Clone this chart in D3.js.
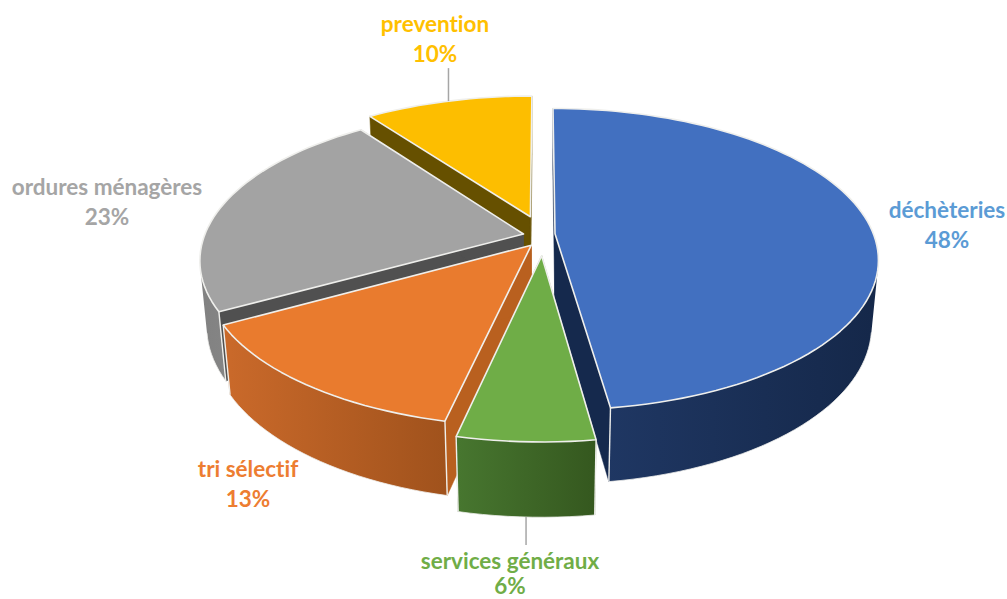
<!DOCTYPE html>
<html lang="fr">
<head>
<meta charset="utf-8">
<title>Répartition</title>
<script src="https://cdn.jsdelivr.net/npm/d3@7"></script>
<style>
    html, body { margin: 0; padding: 0; background: #fff; }
    svg { display: block; }
    text { font-family: Lato, 'Open Sans', sans-serif; font-weight: 700; font-size: 22.5px; text-anchor: middle; font-variant-ligatures: none; }
</style>
</head>
<body>
<svg id="chart" width="1007" height="599"></svg>
<script>
// valeurs, dans le sens horaire depuis midi
const categories = ['déchèteries', 'services généraux', 'tri sélectif', 'ordures ménagères', 'prevention']
const percents = [47.8, 5.7, 13.4, 23.1, 10]

// style
const topColors = ['#4270c0', '#6fad47', '#e97b2e', '#a3a3a3', '#fdbe00']
const labelColors = ['#5b9bd5', '#70ad47', '#ed7d31', '#a5a5a5', '#ffc000']
const wallColors = [['#213a68', '#15284a'], ['#47762f', '#35581f'], ['#c9692a', '#a0521c'], ['#828282', '#999999'], ['#6b5000', '#6b5000']]
const faceColors = ['#15294d', '#35581f', '#b9601f', '#505050', '#665000']
// décalage de chaque part sur le disque (x, z)
const offsets = [[0.044, -0.012], [0.002, 0.135], [-0.03, 0.065], [-0.055, -0.01], [-0.034, -0.13]]
const labelAt = [[947, 218], [510, 569], [248, 477], [107, 195], [435, 32]]
const drawOrder = [4, 3, 0, 2, 1]

const width = 1007
const height = 599
const cx = 541
const cy = 235.5
const R = 319
const Ry = 147
const k = 0.169 // perspective
const c = 0.02 // retrait de la face du bas
const depth = 66.5 / Ry

const svg = d3.select('#chart')
const defs = svg.append('defs')

const x = d3.scaleLinear().domain([-1, 1]).range([cx - R, cx + R])
const y = d3.scaleLinear().domain([-1, 1]).range([cy - Ry, cy + Ry])

const slices = d3.pie().sort(null).value((d) => d)(percents)

const project = (i, angle, r, low) => {
    const dx = r * Math.sin(angle) + offsets[i][0]
    const dz = -r * Math.cos(angle) + offsets[i][1]
    const w = 1 - k * dz + (low ? c : 0)
    return [x(dx / w), y((dz + (low ? depth : 0)) / w)]
}

const arcPoints = (slice, i, low) => {
    const steps = Math.max(8, Math.ceil((slice.endAngle - slice.startAngle) * 30))
    return d3.range(steps + 1).map((s) => project(i, slice.startAngle + ((slice.endAngle - slice.startAngle) * s) / steps, 1, low))
}

const line = d3.line()
const closed = (pts) => line(pts) + 'Z'
const edge = '#efefec'

drawOrder.forEach((i) => {
    const slice = slices[i]
    const g = svg.append('g').attr('class', 'slice')
    const top = arcPoints(slice, i, false)
    const low = arcPoints(slice, i, true)
    const apexTop = project(i, 0, 0, false)
    const apexLow = project(i, 0, 0, true)

    // faces radiales
    ;[0, top.length - 1].forEach((e) => {
        g.append('path')
            .attr('d', closed([apexTop, top[e], low[e], apexLow]))
            .attr('fill', faceColors[i])
            .attr('stroke', faceColors[i])
            .attr('stroke-width', 0.5)
    })

    // paroi extérieure, seulement ce qui est tourné vers nous
    const gradId = `wall${i}`
    const xs = d3.extent(low, (p) => p[0])
    const grad = defs.append('linearGradient').attr('id', gradId).attr('gradientUnits', 'userSpaceOnUse')
        .attr('x1', xs[0]).attr('x2', xs[1]).attr('y1', 0).attr('y2', 0)
    grad.append('stop').attr('offset', 0).attr('stop-color', wallColors[i][0])
    grad.append('stop').attr('offset', 1).attr('stop-color', wallColors[i][1])

    const quads = top.slice(1)
        .map((p, s) => ({ s, pts: [top[s], p, low[s + 1], low[s]] }))
        .filter((q) => d3.polygonArea(q.pts) > 0)

    if (quads.length) {
        g.append('path').attr('d', quads.map((q) => closed(q.pts)).join('')).attr('fill', `url(#${gradId})`)
        const first = quads[0].s
        const last = quads[quads.length - 1].s + 1
        g.append('path').attr('d', line(low.slice(first, last + 1))).attr('fill', 'none').attr('stroke', edge).attr('stroke-width', 0.8)
    }

    // arêtes verticales
    ;[0, top.length - 1].forEach((e) => {
        if (top[e][1] > cy + 20) g.append('path').attr('d', line([top[e], low[e]])).attr('stroke', edge).attr('stroke-width', 1.4)
    })

    // dessus
    g.append('path')
        .attr('d', closed([apexTop, ...top]))
        .attr('fill', topColors[i])
        .attr('stroke', edge)
        .attr('stroke-width', 1.6)
        .attr('stroke-linejoin', 'round')
})

// traits de rappel
const midAngle = (s) => (s.startAngle + s.endAngle) / 2
const goldAnchor = project(4, midAngle(slices[4]), 1, false)
const greenAnchor = project(1, midAngle(slices[1]), 1, true)
svg.append('path').attr('d', line([goldAnchor, [goldAnchor[0], goldAnchor[1] - 33]])).attr('stroke', '#a6a6a6').attr('stroke-width', 1.5)
svg.append('path').attr('d', line([greenAnchor, [greenAnchor[0], greenAnchor[1] + 28]])).attr('stroke', '#a6a6a6').attr('stroke-width', 1.5)

// étiquettes
categories.forEach((name, i) => {
    const t = svg.append('text').attr('x', labelAt[i][0]).attr('y', labelAt[i][1]).attr('fill', labelColors[i])
    t.append('tspan').attr('x', labelAt[i][0]).text(name)
    t.append('tspan').attr('x', labelAt[i][0]).attr('dy', Math.min(30, height - 5 - labelAt[i][1])).text(`${Math.round(percents[i])}%`)
})
</script>
</body>
</html>
